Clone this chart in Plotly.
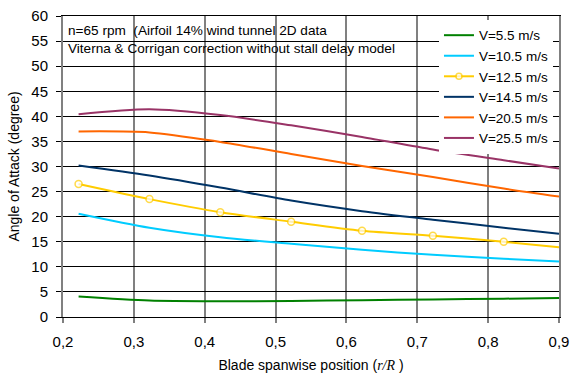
import plotly.graph_objects as go

# Spanwise stations (r/R) where the angle of attack was evaluated
r_over_R = [0.222, 0.322, 0.422, 0.522, 0.622, 0.722, 0.822, 0.9]

# Angle of attack (degree) per wind speed
aoa_v5_5 = [4.1, 3.3, 3.15, 3.2, 3.35, 3.5, 3.65, 3.8]
aoa_v10_5 = [20.6, 17.8, 15.9, 14.6, 13.4, 12.4, 11.6, 11.05]
aoa_v12_5 = [26.5, 23.5, 20.9, 19.0, 17.2, 16.2, 15.0, 13.9]
aoa_v14_5 = [30.2, 28.2, 25.8, 23.2, 21.1, 19.4, 17.8, 16.6]
aoa_v20_5 = [37.0, 36.8, 34.9, 32.5, 30.1, 27.9, 25.6, 24.0]
aoa_v25_5 = [40.4, 41.4, 40.25, 38.2, 35.9, 33.4, 31.25, 29.6]

series_names = ["V=5.5 m/s", "V=10.5 m/s", "V=12.5 m/s",
                "V=14.5 m/s", "V=20.5 m/s", "V=25.5 m/s"]
series_values = [aoa_v5_5, aoa_v10_5, aoa_v12_5, aoa_v14_5, aoa_v20_5, aoa_v25_5]
series_colors = ["#008000", "#00CCFF", "#FFCC00", "#003366", "#FF6600", "#993366"]

x_ticks = [0.2, 0.3, 0.4, 0.5, 0.6, 0.7, 0.8, 0.9]
y_ticks = list(range(0, 61, 5))

FONT = "Liberation Sans, Arial, sans-serif"

fig = go.Figure()
for name, vals, col in zip(series_names, series_values, series_colors):
    if name == "V=12.5 m/s":
        # markers on the computed stations only, not on the end of the line
        sizes = [7] * (len(vals) - 1) + [0]
        fig.add_trace(go.Scatter(
            x=r_over_R, y=vals, name=name, mode="lines+markers",
            line=dict(color=col, width=2, shape="spline", smoothing=0.8),
            marker=dict(size=sizes, color="white", line=dict(color=col, width=1.5)),
        ))
    else:
        fig.add_trace(go.Scatter(
            x=r_over_R, y=vals, name=name, mode="lines",
            line=dict(color=col, width=2, shape="spline", smoothing=0.8),
        ))

# white box behind the header text
fig.add_shape(type="rect", xref="paper", yref="paper",
              x0=0.004, x1=0.679, y0=0.854, y1=0.996,
              fillcolor="white", line=dict(width=0), layer="between")

fig.add_annotation(
    xref="paper", yref="paper", x=0.006, y=0.985, xanchor="left", yanchor="top",
    text="n=65 rpm  (Airfoil 14% wind tunnel 2D data<br>"
         "Viterna &amp; Corrigan correction without stall delay model",
    showarrow=False, align="left",
    font=dict(family=FONT, size=13.6, color="black"),
)

fig.update_layout(
    width=572, height=373,
    margin=dict(l=63, r=13, t=16, b=56),
    paper_bgcolor="white", plot_bgcolor="white",
    separators=", ",
    font=dict(family=FONT, color="black"),
    showlegend=True,
    legend=dict(
        x=0.758, y=0.987, xanchor="left", yanchor="top",
        bgcolor="white", borderwidth=0,
        font=dict(family=FONT, size=13.5, color="black"),
        itemwidth=30, tracegroupgap=0,
    ),
    xaxis=dict(
        range=[0.2, 0.9], tickvals=x_ticks, tickformat=".1f",
        automargin=False,
        showgrid=True, gridcolor="#808080", gridwidth=2,
        ticks="outside", ticklen=5, tickwidth=2, tickcolor="#808080",
        showline=True, linecolor="black", linewidth=1, mirror=True,
        zeroline=False, ticklabelstandoff=6,
        tickfont=dict(family=FONT, size=15, color="black"),
        title=dict(
            text="Blade spanwise position (<span style='font-family:Liberation Serif'><i>r/R</i></span> )",
            font=dict(family=FONT, size=14, color="black"), standoff=21,
        ),
    ),
    yaxis=dict(
        range=[0, 60], tickvals=y_ticks,
        automargin=False,
        showgrid=True, gridcolor="black", gridwidth=1,
        ticks="outside", ticklen=5, tickwidth=1, tickcolor="black",
        showline=True, linecolor="#808080", linewidth=2, mirror=True,
        zeroline=False, ticklabelstandoff=5,
        tickfont=dict(family=FONT, size=15, color="black"),
        title=dict(text="Angle of Attack (degree)",
                   font=dict(family=FONT, size=14, color="black"), standoff=8),
    ),
)

fig.write_html("out.html")
